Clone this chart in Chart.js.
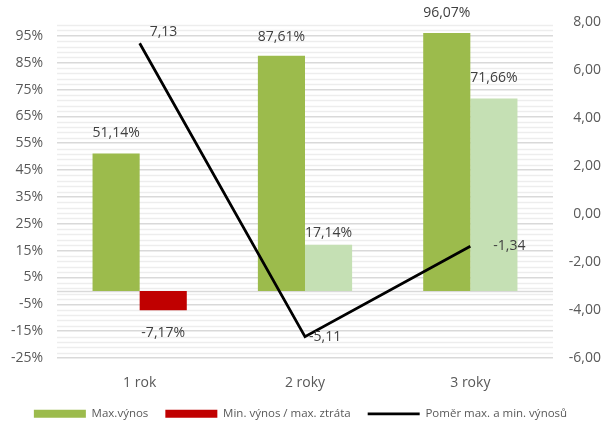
<!DOCTYPE html>
<html>
<head>
<meta charset="utf-8">
<script src="https://cdn.jsdelivr.net/npm/chart.js@4.4.0/dist/chart.umd.min.js"></script>
<style>
  body { margin: 0; background: #fff; }
</style>
</head>
<body>
<canvas id="graf" width="602" height="426"></canvas>
<script>
var categories = ['1 rok', '2 roky', '3 roky'];
var maxVynos = [51.14, 87.61, 96.07];
var minVynos = [-7.17, 17.14, 71.66];
var pomer = [7.13, -5.11, -1.34];
var leftTicks = [-25, -15, -5, 5, 15, 25, 35, 45, 55, 65, 75, 85, 95];
var rightTicks = [-6, -4, -2, 0, 2, 4, 6, 8];

var font = 'Open Sans';

function cz(v, d) {
  return v.toFixed(d).replace('.', ',');
}

// minor grid + zero line like excel
var gridPlugin = {
  id: 'minorGrid',
  beforeDatasetsDraw: function(chart) {
    var ctx = chart.ctx;
    var y = chart.scales.y;
    var area = chart.chartArea;
    ctx.save();
    ctx.strokeStyle = '#ededed';
    ctx.lineWidth = 1.5;
    for (var v = -23; v < 100; v += 2) {
      if ((v + 25) % 10 === 0) continue;
      var py = Math.round(y.getPixelForValue(v)) + 0.5;
      ctx.beginPath();
      ctx.moveTo(area.left, py);
      ctx.lineTo(area.right, py);
      ctx.stroke();
    }
    ctx.strokeStyle = '#d9d9d9';
    ctx.lineWidth = 1.5;
    var z = Math.round(y.getPixelForValue(0)) + 0.5;
    ctx.beginPath();
    ctx.moveTo(area.left, z);
    ctx.lineTo(area.right, z);
    ctx.stroke();
    ctx.restore();
  }
};

var labelPlugin = {
  id: 'popisky',
  afterDatasetsDraw: function(chart, args, opts) {
    var ctx = chart.ctx;
    ctx.save();
    ctx.font = '14px "' + font + '"';
    ctx.fillStyle = '#404040';
    ctx.textBaseline = 'middle';
    chart.data.datasets.forEach(function(ds, i) {
      var meta = chart.getDatasetMeta(i);
      meta.data.forEach(function(el, j) {
        var v = ds.data[j];
        if (ds.type === 'line') {
          var o = opts.lineOffsets[j];
          ctx.textAlign = 'left';
          ctx.fillText(cz(v, 2), el.x + o[0], el.y + o[1]);
        } else {
          var off = opts.barOffsets[i][j];
          ctx.textAlign = 'center';
          if (v >= 0) ctx.fillText(cz(v, 2) + '%', el.x, el.y - off);
          else ctx.fillText(cz(v, 2) + '%', el.x, el.y + off);
        }
      });
    });
    ctx.restore();
  }
};

window.onload = function() {
  var ctx = document.getElementById('graf').getContext('2d');
  var myChart = new Chart(ctx, {
    type: 'bar',
    data: {
      labels: categories,
      datasets: [{
        label: 'Max.výnos',
        data: maxVynos,
        backgroundColor: '#9CBB4C',
        borderWidth: 0,
        yAxisID: 'y',
        order: 2,
        pointStyle: 'rect'
      }, {
        label: 'Min. výnos / max. ztráta',
        data: minVynos,
        backgroundColor: ['#C00000', '#C5E0B4', '#C5E0B4'],
        borderWidth: 0,
        yAxisID: 'y',
        order: 2,
        pointStyle: 'rect'
      }, {
        type: 'line',
        label: 'Poměr max. a min. výnosů',
        data: pomer,
        borderColor: '#000000',
        backgroundColor: '#000000',
        borderWidth: 2.75,
        pointRadius: 0,
        tension: 0,
        yAxisID: 'y1',
        order: 1,
        pointStyle: 'line'
      }]
    },
    options: {
      responsive: false,
      animation: false,
      layout: { padding: { top: 21, right: 1, left: 0, bottom: 0 } },
      datasets: {
        bar: { categoryPercentage: 0.57, barPercentage: 1 }
      },
      scales: {
        x: {
          grid: { display: false, drawTicks: false },
          border: { display: false },
          ticks: { padding: 17, color: '#595959', font: { family: font, size: 14 } },
          afterFit: function(s) { s.height = 33; }
        },
        y: {
          position: 'left',
          min: -25,
          max: 100,
          afterBuildTicks: function(s) {
            s.ticks = leftTicks.map(function(v) { return { value: v }; });
          },
          grid: { color: '#d9d9d9', lineWidth: 1.5, drawTicks: false },
          border: { display: false },
          ticks: {
            padding: 14,
            color: '#595959',
            font: { family: font, size: 14 },
            callback: function(v) { return v + '%'; }
          },
          afterFit: function(s) { s.width = 57; }
        },
        y1: {
          position: 'right',
          min: -6,
          max: 8,
          afterBuildTicks: function(s) {
            s.ticks = rightTicks.map(function(v) { return { value: v }; });
          },
          grid: { display: false, drawTicks: false },
          border: { display: false },
          ticks: {
            padding: 10,
            crossAlign: 'far',
            color: '#595959',
            font: { family: font, size: 14 },
            callback: function(v) { return cz(v, 2); }
          },
          afterFit: function(s) { s.width = 48; }
        }
      },
      plugins: {
        legend: {
          position: 'bottom',
          maxHeight: 35,
          labels: {
            usePointStyle: true,
            pointStyleWidth: 52,
            boxHeight: 8,
            padding: 17,
            color: '#595959',
            font: { family: font, size: 11.5 },
            sort: function(a, b) { return a.datasetIndex - b.datasetIndex; }
          }
        },
        tooltip: { enabled: false },
        popisky: {
          barOffsets: [[21, 19, 20], [23, 12, 20]],
          lineOffsets: [[10, -11], [4, 0], [23, 0]]
        }
      }
    },
    plugins: [gridPlugin, labelPlugin]
  });
};
</script>
</body>
</html>
